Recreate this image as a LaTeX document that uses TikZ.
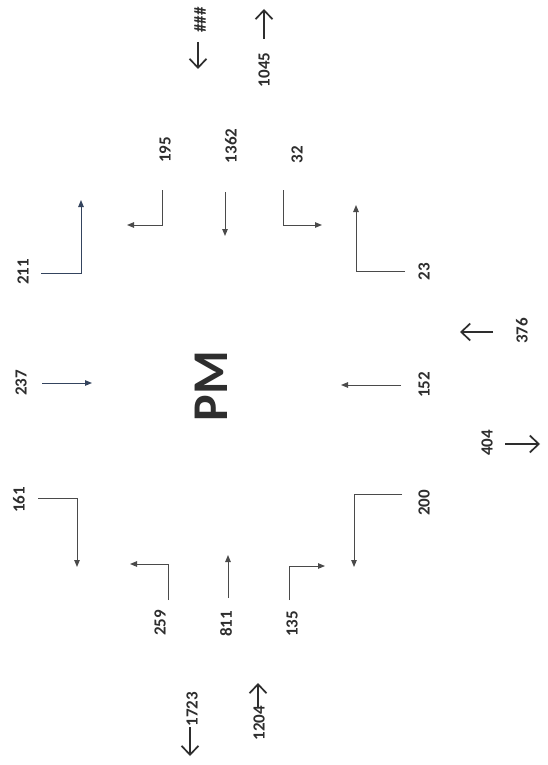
\documentclass[tikz,border=0pt]{standalone}
\usepackage{fontspec}
\setmainfont{Carlito}
\usetikzlibrary{arrows.meta}
\definecolor{txtc}{HTML}{2E2E2E}
\definecolor{linec}{HTML}{4A4A4A}
\definecolor{bluec}{HTML}{34445E}
\begin{document}
\begin{tikzpicture}[x=1pt,y=-1pt,
  lbl/.style={rotate=90, font=\fontsize{17}{17}\selectfont\bfseries, text=txtc, inner sep=0pt},
  mv/.style={draw=linec, line width=1pt, -{Triangle[length=7pt,width=5.5pt]}},
  mvb/.style={mv, draw=bluec},
  big/.style={draw=txtc, line width=1.7pt, -{Straight Barb[length=9pt,width=17pt]}}]
\useasboundingbox[fill=white] (0,0) rectangle (547,765);

% centre label
\node[rotate=90, font=\fontsize{50}{50}\selectfont\bfseries, text=txtc, inner sep=0pt] (pm) at (211,386) {PM};

% labels
\node[lbl] (hash) at (200,20) {\#\#\#};
\node[lbl] (l1045) at (264,70) {1045};
\node[lbl] (l195) at (165,150) {195};
\node[lbl] (l1362) at (231,146) {1362};
\node[lbl] (l32) at (297,155) {32};
\node[lbl] (l211) at (23,272) {211};
\node[lbl] (l23) at (424,272) {23};
\node[lbl] (l237) at (21,383) {237};
\node[lbl] (l152) at (424,385) {152};
\node[lbl] (l376) at (522,331) {376};
\node[lbl] (l404) at (487,443) {404};
\node[lbl] (l161) at (19,500) {161};
\node[lbl] (l200) at (424,503) {200};
\node[lbl] (l259) at (160,623) {259};
\node[lbl] (l811) at (226,624) {811};
\node[lbl] (l135) at (292,624) {135};
\node[lbl] (l1723) at (192,709) {1723};
\node[lbl] (l1204) at (259,723) {1204};

% coordinates
\coordinate (hA) at (198,42);  \coordinate (hB) at (198,69);
\coordinate (eA) at (264,39);  \coordinate (eB) at (264,9);
\coordinate (a195a) at (162,190); \coordinate (a195b) at (162,225); \coordinate (a195c) at (127,225);
\coordinate (a1362a) at (225,192); \coordinate (a1362b) at (225,236);
\coordinate (a32a) at (283,190); \coordinate (a32b) at (283,225); \coordinate (a32c) at (322,225);
\coordinate (a211a) at (41,273); \coordinate (a211b) at (81,273); \coordinate (a211c) at (81,200);
\coordinate (a23a) at (405,271); \coordinate (a23b) at (356,271); \coordinate (a23c) at (356,205);
\coordinate (a237a) at (42,383); \coordinate (a237b) at (92,383);
\coordinate (a152a) at (401,385); \coordinate (a152b) at (341,385);
\coordinate (a376a) at (493,332); \coordinate (a376b) at (460,332);
\coordinate (a404a) at (505,444); \coordinate (a404b) at (540,444);
\coordinate (a161a) at (38,498); \coordinate (a161b) at (77,498); \coordinate (a161c) at (77,567);
\coordinate (a200a) at (402,494); \coordinate (a200b) at (354,494); \coordinate (a200c) at (354,567);
\coordinate (a259a) at (168,600); \coordinate (a259b) at (168,564); \coordinate (a259c) at (130,564);
\coordinate (a811a) at (228,598); \coordinate (a811b) at (228,555);
\coordinate (a135a) at (289,600); \coordinate (a135b) at (289,566); \coordinate (a135c) at (325,566);
\coordinate (a1723a) at (190,727); \coordinate (a1723b) at (190,756);
\coordinate (a1204a) at (258,708); \coordinate (a1204b) at (258,683);

% big arrows
\draw[big] (hA) -- (hB);
\draw[big] (eA) -- (eB);
\draw[big] (a376a) -- (a376b);
\draw[big] (a404a) -- (a404b);
\draw[big] (a1723a) -- (a1723b);
\draw[big] (a1204a) -- (a1204b);

% movement arrows
\draw[mv] (a195a) -- (a195b) -- (a195c);
\draw[mv] (a1362a) -- (a1362b);
\draw[mv] (a32a) -- (a32b) -- (a32c);
\draw[mvb] (a211a) -- (a211b) -- (a211c);
\draw[mv] (a23a) -- (a23b) -- (a23c);
\draw[mvb] (a237a) -- (a237b);
\draw[mv] (a152a) -- (a152b);
\draw[mv] (a161a) -- (a161b) -- (a161c);
\draw[mv] (a200a) -- (a200b) -- (a200c);
\draw[mv] (a259a) -- (a259b) -- (a259c);
\draw[mv] (a811a) -- (a811b);
\draw[mv] (a135a) -- (a135b) -- (a135c);
\end{tikzpicture}
\end{document}
